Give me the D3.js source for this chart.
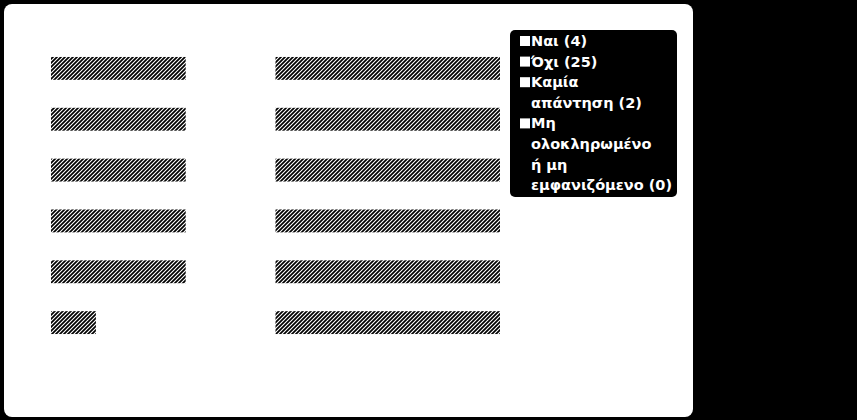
<!DOCTYPE html>
<html>
<head>
<meta charset="utf-8">
<script src="https://cdn.jsdelivr.net/npm/d3@7"></script>
<style>
  html, body { margin: 0; padding: 0; background: #000; }
  svg { display: block; }
</style>
</head>
<body>
<svg id="chart"></svg>
<script>
// rows of the two bar columns
var rows = ["1", "2", "3", "4", "5", "6"]
var leftValues = [3, 3, 3, 3, 3, 1]
var rightValues = [5, 5, 5, 5, 5, 5]
var rightStart = 5

// legend entries, already broken into lines as in the picture
var legendLines = [
    ["Ναι (4)"],
    ["Όχι (25)"],
    ["Καμία", "απάντηση (2)"],
    ["Μη", "ολοκληρωμένο", "ή μη", "εμφανιζόμενο (0)"]
]

var dimensions = {
    width: 857,
    height: 420
}

var svg = d3.select("#chart")
    .attr("width", dimensions.width)
    .attr("height", dimensions.height)

var defs = svg.append("defs")
var pattern = defs.append("pattern")
    .attr("id", "hatch")
    .attr("patternUnits", "userSpaceOnUse")
    .attr("width", 4)
    .attr("height", 4)
pattern.append("rect")
    .attr("width", 4)
    .attr("height", 4)
    .attr("fill", "#000")
pattern.append("path")
    .attr("d", "M-1,1 l2,-2 M0,4 l4,-4 M3,5 l2,-2")
    .attr("stroke", "#fff")
    .attr("stroke-width", 1.1)

// white panel
svg.append("rect")
    .attr("x", 4)
    .attr("y", 4)
    .attr("width", 689)
    .attr("height", 413)
    .attr("rx", 8)
    .attr("fill", "#fff")

var xScale = d3.scaleLinear()
    .domain([0, 10])
    .range([51, 500])

var yScale = d3.scaleBand()
    .domain(rows)
    .range([29, 362])
    .padding(0.55)

svg.append("g")
    .selectAll("rect")
    .data(rows)
    .enter()
    .append("rect")
    .attr("x", xScale(0))
    .attr("y", function (d) { return yScale(d) })
    .attr("width", function (d, i) { return xScale(leftValues[i]) - xScale(0) })
    .attr("height", yScale.bandwidth())
    .attr("fill", "url(#hatch)")

svg.append("g")
    .selectAll("rect")
    .data(rows)
    .enter()
    .append("rect")
    .attr("x", xScale(rightStart))
    .attr("y", function (d) { return yScale(d) })
    .attr("width", function (d, i) { return xScale(rightStart + rightValues[i]) - xScale(rightStart) })
    .attr("height", yScale.bandwidth())
    .attr("fill", "url(#hatch)")

// legend
var legend = svg.append("g")

legend.append("rect")
    .attr("x", 510)
    .attr("y", 30)
    .attr("width", 167)
    .attr("height", 167)
    .attr("rx", 5)
    .attr("fill", "#000")

var lineHeight = 20.6
var lineNo = 0
legendLines.forEach(function (lines) {
    var base = 46 + lineNo * lineHeight
    legend.append("rect")
        .attr("x", 520)
        .attr("y", base - 10)
        .attr("width", 10)
        .attr("height", 10)
        .attr("fill", "#fff")
    lines.forEach(function (t) {
        legend.append("text")
            .attr("x", 531)
            .attr("y", 46 + lineNo * lineHeight)
            .attr("fill", "#fff")
            .style("font", "bold 14.5px 'DejaVu Sans', sans-serif")
            .text(t)
        lineNo++
    })
})
</script>
</body>
</html>
